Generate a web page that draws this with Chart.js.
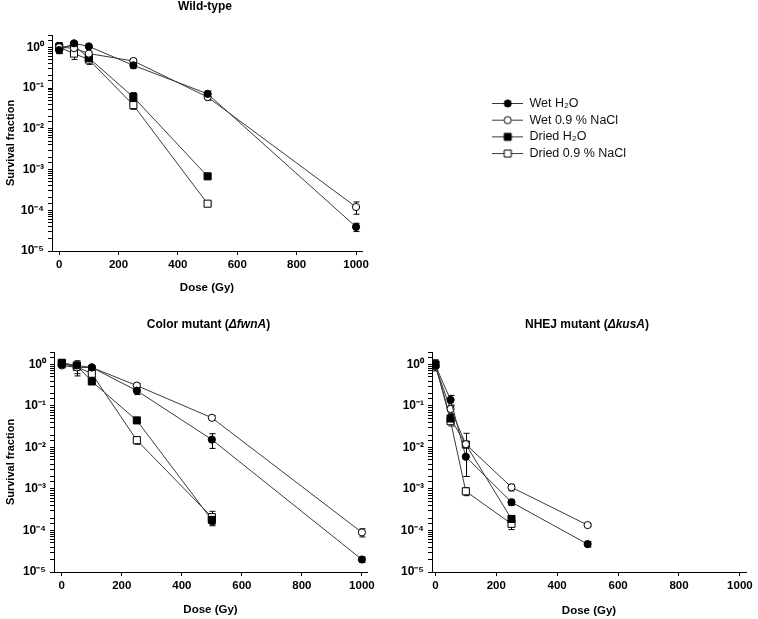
<!DOCTYPE html>
<html><head><meta charset="utf-8">
<script src="https://cdn.jsdelivr.net/npm/chart.js@4.4.1/dist/chart.umd.min.js"></script>
<style>
html,body{margin:0;padding:0;background:#fff;}
#wrap{position:relative;width:758px;height:619px;overflow:hidden;background:#fff;}
canvas{position:absolute;}
</style></head><body>
<div id="wrap">
<canvas id="c1" width="380" height="305" style="left:0;top:0"></canvas>
<canvas id="c2" width="380" height="309" style="left:0;top:310px"></canvas>
<canvas id="c3" width="378" height="309" style="left:380px;top:310px"></canvas>
<canvas id="leg" width="240" height="80" style="left:488px;top:93px"></canvas>
</div>
<script>
// ---------- data ----------
const seriesNames = ['Wet H\u2082O', 'Wet 0.9 % NaCl', 'Dried H\u2082O', 'Dried 0.9 % NaCl'];
const xTickValues = [0, 200, 400, 600, 800, 1000];
const yDecadeValues = [1, 0.1, 0.01, 0.001, 0.0001, 0.00001];
const yDecadeLabels = ['10\u2070', '10\u207B\u00B9', '10\u207B\u00B2', '10\u207B\u00B3', '10\u207B\u2074', '10\u207B\u2075'];
const xAxisTitle = 'Dose (Gy)';
const yAxisTitle = 'Survival fraction';

const titleWT = [{text: 'Wild-type'}];
const titleColor = [{text: 'Color mutant ('}, {text: '\u0394fwnA', italic: true}, {text: ')'}];
const titleNHEJ = [{text: 'NHEJ mutant ('}, {text: '\u0394kusA', italic: true}, {text: ')'}];

// Wild-type
const wtDoseWet = [0, 50, 100, 250, 500, 1000];
const wtDoseDried = [0, 50, 100, 250, 500];
const wtWetH2O = [0.85, 1.25, 1.05, 0.36, 0.072, 0.000039];
const wtWetH2OErr = [0.12, 0.12, 0.06, 0.06, 0.012, 0.000009];
const wtWetNaCl = [1.0, 0.95, 0.70, 0.46, 0.060, 0.00012];
const wtWetNaClErr = [0.3, 0.1, 0.06, 0.06, 0.01, 0.00004];
const wtDriedH2O = [1.0, 1.1, 0.55, 0.060, 0.00068];
const wtDriedH2OErr = [0.1, 0.12, 0.05, 0.017, 0.00009];
const wtDriedNaCl = [1.0, 0.70, 0.50, 0.038, 0.000145];
const wtDriedNaClErr = [0.3, 0.2, 0.12, 0.008, 0.000015];

// Color mutant (fwnA)
const cmDoseWet = [0, 50, 100, 250, 500, 1000];
const cmDoseDried = [0, 50, 100, 250, 500];
const cmWetH2O = [1.0, 0.95, 0.85, 0.234, 0.0155, 0.00002];
const cmWetH2OErr = [0.1, 0.15, 0.05, 0.045, 0.006, 0.000003];
const cmWetNaCl = [0.95, 0.85, 0.85, 0.31, 0.052, 0.00009];
const cmWetNaClErr = [0.1, 0.25, 0.06, 0.04, 0.007, 0.00002];
const cmDriedH2O = [1.1, 0.95, 0.39, 0.045, 0.00018];
const cmDriedH2OErr = [0.12, 0.12, 0.04, 0.005, 0.00004];
const cmDriedNaCl = [1.05, 0.88, 0.60, 0.015, 0.00021];
const cmDriedNaClErr = [0.22, 0.35, 0.1, 0.003, 0.00008];

// NHEJ mutant (kusA)
const nhDoseWet = [0, 50, 100, 250, 500];
const nhDoseDried = [0, 50, 100, 250];
const nhWetH2O = [0.95, 0.14, 0.006, 0.00048, 0.000047];
const nhWetH2OErr = [0.1, 0.04, 0.004, 0.00008, 0.000007];
const nhWetNaCl = [0.9, 0.085, 0.012, 0.0011, 0.000135];
const nhWetNaClErr = [0.1, 0.02, 0.01, 0.0002, 0.00001];
const nhDriedH2O = [1.0, 0.05, 0.0118, 0.00019];
const nhDriedH2OErr = [0.2, 0.012, 0.002, 0.00002];
const nhDriedNaCl = [1.0, 0.043, 0.00088, 0.000145];
const nhDriedNaClErr = [0.3, 0.01, 0.00019, 0.00004];

// ---------- styling ----------
const FONT = '"Liberation Sans", Arial, Helvetica, sans-serif';
const LINE_COLOR = '#3a3a3a';
const markerStyles = [
  {pointStyle: 'circle', fill: '#000', radius: 3.6},
  {pointStyle: 'circle', fill: '#fff', radius: 3.6},
  {pointStyle: 'rect', fill: '#000', radius: 5},
  {pointStyle: 'rect', fill: '#fff', radius: 5}
];

Chart.defaults.color = '#000';
Chart.defaults.font.family = FONT;

const panelTitlePlugin = {
  id: 'panelTitle',
  afterDraw(chart, args, opts) {
    if (!opts || !opts.segments) return;
    const {ctx, chartArea} = chart;
    ctx.save();
    const fonts = opts.segments.map(s => (s.italic ? 'italic ' : '') + 'bold 12px ' + FONT);
    let total = 0;
    opts.segments.forEach((s, i) => { ctx.font = fonts[i]; total += ctx.measureText(s.text).width; });
    let x = (chartArea.left + chartArea.right) / 2 - 2 - total / 2;
    const y = chartArea.top - opts.offset;
    ctx.textBaseline = 'middle';
    ctx.textAlign = 'left';
    ctx.fillStyle = '#000';
    opts.segments.forEach((s, i) => { ctx.font = fonts[i]; ctx.fillText(s.text, x, y); x += ctx.measureText(s.text).width; });
    ctx.restore();
  }
};

const errorBarPlugin = {
  id: 'errorBars',
  beforeDatasetsDraw(chart) {
    const {ctx} = chart;
    const xs = chart.scales.x, ys = chart.scales.y;
    ctx.save();
    ctx.strokeStyle = '#000';
    ctx.lineWidth = 1;
    chart.data.datasets.forEach(ds => {
      (ds.errors || []).forEach((e, j) => {
        if (!e) return;
        const p = ds.data[j];
        const px = Math.round(xs.getPixelForValue(p.x)) + 0.5;
        const yt = ys.getPixelForValue(p.y + e);
        const yb = ys.getPixelForValue(Math.max(p.y - e, p.y * 0.05));
        ctx.beginPath();
        ctx.moveTo(px, yt); ctx.lineTo(px, yb);
        ctx.moveTo(px - 3, yt); ctx.lineTo(px + 3, yt);
        ctx.moveTo(px - 3, yb); ctx.lineTo(px + 3, yb);
        ctx.stroke();
      });
    });
    ctx.restore();
  }
};

function makeDataset(idx, doses, vals, errs) {
  const m = markerStyles[idx];
  return {
    label: seriesNames[idx],
    data: doses.map((d, i) => ({x: d, y: vals[i]})),
    errors: errs,
    borderColor: LINE_COLOR,
    borderWidth: 1,
    pointStyle: m.pointStyle,
    pointRadius: m.radius,
    pointBackgroundColor: m.fill,
    pointBorderColor: '#000',
    pointBorderWidth: 1,
    fill: false,
    tension: 0
  };
}

function yTickLabel(v) {
  const i = yDecadeValues.findIndex(d => Math.abs(Math.log10(v) - Math.log10(d)) < 1e-6);
  return i >= 0 ? yDecadeLabels[i] : '';
}

function makePanel(id, datasets, p) {
  new Chart(document.getElementById(id), {
    type: 'line',
    data: {datasets},
    options: {
      responsive: false,
      animation: false,
      devicePixelRatio: 1,
      layout: {padding: {left: 0, top: p.top, right: p.right, bottom: 0}},
      scales: {
        x: {
          type: 'linear',
          min: p.xMin, max: p.xMax,
          afterBuildTicks: s => { s.ticks = xTickValues.map(v => ({value: v})); },
          afterFit: s => { s.height = p.xHeight; },
          ticks: {callback: v => String(v), font: {size: 11.5, weight: 'bold'}, color: '#000', padding: 3, autoSkip: false, maxRotation: 0},
          grid: {display: true, drawOnChartArea: false, drawTicks: true, tickLength: 4, color: '#000', tickColor: '#000'},
          border: {display: true, color: '#000', width: 1},
          title: {display: true, text: xAxisTitle, font: {size: 11.5, weight: 'bold'}, color: '#000', padding: {top: 0, bottom: p.xTitlePad}}
        },
        y: {
          type: 'logarithmic',
          min: 0.00001, max: 2,
          afterFit: s => { s.width = p.yWidth; },
          ticks: {callback: yTickLabel, font: {size: 12, weight: 'bold'}, color: '#000', padding: 4, autoSkip: false},
          grid: {display: true, drawOnChartArea: false, drawTicks: true, tickLength: 4, color: '#000', tickColor: '#000'},
          border: {display: true, color: '#000', width: 1},
          title: {display: p.yTitle, text: yAxisTitle, font: {size: 11, weight: 'bold'}, color: '#000', padding: {top: 4.7, bottom: 0}}
        }
      },
      plugins: {
        legend: {display: false},
        tooltip: {enabled: false},
        panelTitle: {segments: p.title, offset: p.titleOffset}
      }
    },
    plugins: [panelTitlePlugin, errorBarPlugin]
  });
}

makePanel('c1', [
  makeDataset(0, wtDoseWet, wtWetH2O, wtWetH2OErr),
  makeDataset(1, wtDoseWet, wtWetNaCl, wtWetNaClErr),
  makeDataset(2, wtDoseDried, wtDriedH2O, wtDriedH2OErr),
  makeDataset(3, wtDoseDried, wtDriedNaCl, wtDriedNaClErr)
], {top: 35, right: 18, yWidth: 52, xHeight: 54, xMin: -24, xMax: 1020, xTitlePad: 10.1, yTitle: true, title: titleWT, titleOffset: 28});

makePanel('c2', [
  makeDataset(0, cmDoseWet, cmWetH2O, cmWetH2OErr),
  makeDataset(1, cmDoseWet, cmWetNaCl, cmWetNaClErr),
  makeDataset(2, cmDoseDried, cmDriedH2O, cmDriedH2OErr),
  makeDataset(3, cmDoseDried, cmDriedNaCl, cmDriedNaClErr)
], {top: 42, right: 13, yWidth: 54, xHeight: 47, xMin: -26, xMax: 1017, xTitlePad: 2.1, yTitle: true, title: titleColor, titleOffset: 27});

makePanel('c3', [
  makeDataset(0, nhDoseWet, nhWetH2O, nhWetH2OErr),
  makeDataset(1, nhDoseWet, nhWetNaCl, nhWetNaClErr),
  makeDataset(2, nhDoseDried, nhDriedH2O, nhDriedH2OErr),
  makeDataset(3, nhDoseDried, nhDriedNaCl, nhDriedNaClErr)
], {top: 42, right: 12, yWidth: 52, xHeight: 47, xMin: -11, xMax: 1020, xTitlePad: 1, yTitle: false, title: titleNHEJ, titleOffset: 27});

// ---------- legend (Chart.js legend on its own canvas) ----------
function legendIcon(idx) {
  const m = markerStyles[idx];
  const c = document.createElement('canvas');
  c.width = 31; c.height = 11;
  const g = c.getContext('2d');
  g.strokeStyle = LINE_COLOR; g.lineWidth = 1;
  g.beginPath(); g.moveTo(0, 5.5); g.lineTo(31, 5.5); g.stroke();
  g.fillStyle = m.fill; g.strokeStyle = '#000';
  g.beginPath();
  if (m.pointStyle === 'circle') g.arc(15.5, 5.5, 3.6, 0, Math.PI * 2);
  else g.rect(12, 2, 7, 7);
  g.fill(); g.stroke();
  return c;
}
const legendIcons = [0, 1, 2, 3].map(legendIcon);

new Chart(document.getElementById('leg'), {
  type: 'line',
  data: {datasets: seriesNames.map((n, i) => ({label: n, data: []}))},
  options: {
    responsive: false,
    animation: false,
    devicePixelRatio: 1,
    layout: {padding: 0},
    scales: {x: {display: false}, y: {display: false}},
    plugins: {
      tooltip: {enabled: false},
      legend: {
        display: true,
        position: 'left',
        align: 'start',
        maxWidth: 230,
        labels: {
          usePointStyle: true,
          pointStyleWidth: 31,
          padding: 4.2,
          color: '#111',
          font: {size: 12.5, family: FONT},
          generateLabels: chart => chart.data.datasets.map((ds, i) => ({
            text: ds.label, pointStyle: legendIcons[i], datasetIndex: i, hidden: false,
            lineWidth: 0, fillStyle: '#000', strokeStyle: '#000', fontColor: '#111'
          }))
        }
      }
    }
  }
});
</script>
</body></html>
